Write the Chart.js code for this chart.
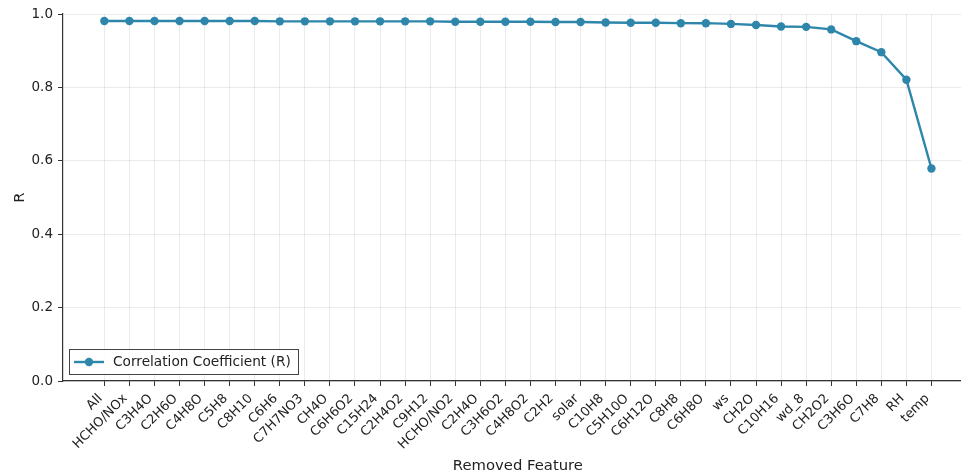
<!DOCTYPE html>
<html>
<head>
<meta charset="utf-8">
<script src="https://cdn.jsdelivr.net/npm/chart.js@4.4.1/dist/chart.umd.min.js"></script>
<style>
  html, body { margin: 0; padding: 0; background: #fff; overflow: hidden; }
  #wrap { width: 977px; height: 475px; }
</style>
</head>
<body>
<div id="wrap"><canvas id="c" width="977" height="475"></canvas></div>
<script>
const features = ["All","HCHO/NOx","C3H4O","C2H6O","C4H8O","C5H8","C8H10","C6H6","C7H7NO3","CH4O",
  "C6H6O2","C15H24","C2H4O2","C9H12","HCHO/NO2","C2H4O","C3H6O2","C4H8O2","C2H2","solar",
  "C10H8","C5H10O","C6H12O","C8H8","C6H8O","ws","CH2O","C10H16","wd_8","CH2O2",
  "C3H6O","C7H8","RH","temp"];
const rValues = [0.981,0.981,0.981,0.981,0.981,0.981,0.981,0.980,0.980,0.980,
  0.980,0.980,0.980,0.980,0.979,0.979,0.979,0.979,0.978,0.978,
  0.977,0.976,0.976,0.975,0.975,0.973,0.970,0.966,0.965,0.958,
  0.926,0.896,0.821,0.579];
const yTicks = [0.0,0.2,0.4,0.6,0.8,1.0];
const seriesName = "Correlation Coefficient (R)";
const xTitle = "Removed Feature";
const yTitle = "R";

const LINE = "#2E86AB";
const FONT = "'DejaVu Sans', sans-serif";

const legendPlugin = {
  id: 'insideLegend',
  afterDraw(chart) {
    const ctx = chart.ctx, a = chart.chartArea;
    const x = a.left + 6, w = 229, h = 25, y = a.bottom - 7 - h;
    ctx.save();
    ctx.fillStyle = 'rgba(255,255,255,0.85)';
    ctx.fillRect(x, y, w, h);
    ctx.strokeStyle = '#444';
    ctx.lineWidth = 1;
    ctx.strokeRect(x + 0.5, y + 0.5, w, h);
    const cy = y + h / 2 + 0.5;
    ctx.strokeStyle = LINE; ctx.lineWidth = 2.4;
    ctx.beginPath(); ctx.moveTo(x + 5, cy); ctx.lineTo(x + 35, cy); ctx.stroke();
    ctx.fillStyle = LINE;
    ctx.beginPath(); ctx.arc(x + 20, cy, 4.2, 0, Math.PI * 2); ctx.fill();
    ctx.fillStyle = '#222';
    ctx.font = "13.7px " + FONT;
    ctx.textBaseline = 'middle';
    ctx.fillText(seriesName, x + 44, cy);
    ctx.restore();
  }
};

new Chart(document.getElementById('c'), {
  type: 'line',
  data: {
    datasets: [{
      label: seriesName,
      data: rValues.map((v, i) => ({ x: i, y: v })),
      borderColor: LINE,
      backgroundColor: LINE,
      borderWidth: 2.4,
      pointRadius: 4.2,
      pointHoverRadius: 4.2,
      pointBorderWidth: 0,
      pointBackgroundColor: LINE,
      tension: 0,
      fill: false
    }]
  },
  options: {
    responsive: false,
    animation: false,
    devicePixelRatio: 1,
    layout: { padding: { top: 14, right: 0, left: 0, bottom: 0 } },
    plugins: { legend: { display: false }, tooltip: { enabled: false } },
    scales: {
      x: {
        type: 'linear',
        min: -1.65,
        max: features.length - 1 + 1.65,
        afterBuildTicks(scale) { scale.ticks = features.map((_, i) => ({ value: i })); },
        afterFit(scale) { scale.height = 94; },
        ticks: {
          autoSkip: false,
          maxRotation: 45,
          minRotation: 45,
          padding: 5,
          labelOffset: -4,
          color: '#222',
          font: { family: FONT, size: 13 },
          callback: (v) => features[v]
        },
        grid: { color: 'rgba(0,0,0,0.08)', lineWidth: 1, tickLength: 5, tickColor: '#333', drawTicks: true },
        border: { display: true, color: '#333', width: 1.2 },
        title: { display: true, text: xTitle, color: '#222', font: { family: FONT, size: 14.8 }, padding: { top: 0, bottom: 0 } }
      },
      y: {
        min: 0, max: 1.0,
        afterBuildTicks(scale) { scale.ticks = yTicks.map(v => ({ value: v })); },
        afterFit(scale) { scale.width = 63; },
        ticks: {
          padding: 5,
          color: '#222',
          font: { family: FONT, size: 13.5 },
          callback: (v) => Number(v).toFixed(1)
        },
        grid: { color: 'rgba(0,0,0,0.08)', lineWidth: 1, tickLength: 5, tickColor: '#333', drawTicks: true },
        border: { display: true, color: '#333', width: 1.2 },
        title: { display: true, text: yTitle, color: '#222', font: { family: FONT, size: 14.8 }, padding: { top: 11, bottom: 0 } }
      }
    }
  },
  plugins: [legendPlugin]
});
</script>
</body>
</html>
